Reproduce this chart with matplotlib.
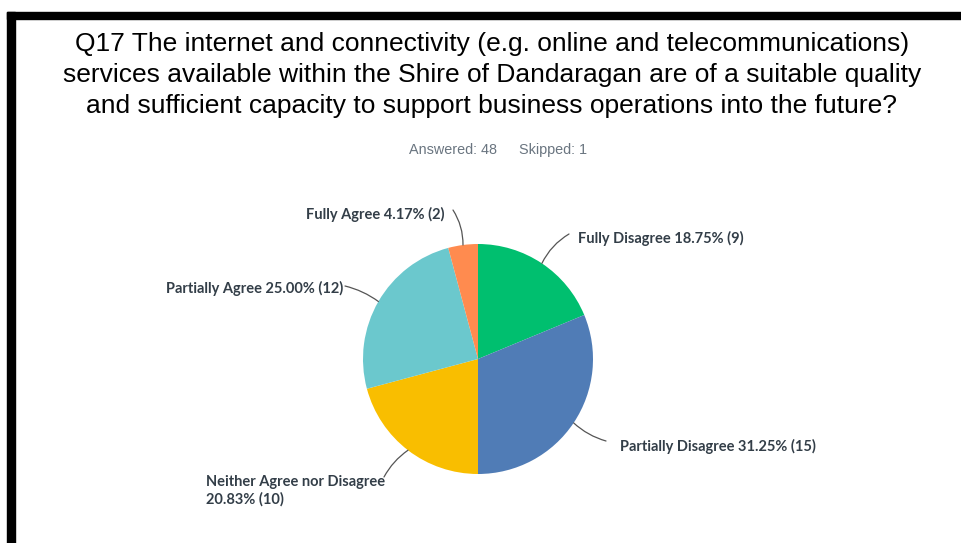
import matplotlib.pyplot as plt
import numpy as np
from matplotlib.patches import Rectangle

W, H = 962, 543

labels = ["Fully Disagree", "Partially Disagree", "Neither Agree nor Disagree",
          "Partially Agree", "Fully Agree"]
counts = [9, 15, 10, 12, 2]
percents = [18.75, 31.25, 20.83, 25.00, 4.17]
colors = ["#00BF6F", "#507CB6", "#F9BE00", "#6BC8CD", "#FF8B4F"]

title = ("Q17 The internet and connectivity (e.g. online and telecommunications)\n"
         "services available within the Shire of Dandaragan are of a suitable quality\n"
         "and sufficient capacity to support business operations into the future?")
answered, skipped = 48, 1

fig = plt.figure(figsize=(W / 100, H / 100), dpi=100)
ax = fig.add_axes([0, 0, 1, 1])

# pie in pixel-like units, y measured from the bottom
cx, cy, r = 478, H - 359, 115
wedges, _ = ax.pie(counts, colors=colors, startangle=90, counterclock=False,
                   center=(cx, cy), radius=r,
                   wedgeprops=dict(linewidth=0))
ax.set_xlim(0, W)
ax.set_ylim(0, H)
ax.set_aspect("equal")
ax.axis("off")

# label anchors (x, y from top), alignment, curve of the leader, leader start
label_pos = [
    ((578, 238), "left", 0.15, (569, 234)),
    ((620, 446), "left", -0.12, (606, 441)),
    ((206, 491), "left", -0.12, (384, 477)),
    ((343, 288), "right", -0.1, (345, 286)),
    ((445, 214), "right", -0.15, (453, 210)),
]

for w, name, pct, n, (tpos, ha, rad, lstart) in zip(
        wedges, labels, percents, counts, label_pos):
    mid = np.deg2rad((w.theta1 + w.theta2) / 2)
    edge = (cx + r * np.cos(mid), cy + r * np.sin(mid))
    if name.startswith("Neither"):
        txt = f"{name}\n{pct:.2f}% ({n})"
    else:
        txt = f"{name} {pct:.2f}% ({n})"
    ax.text(tpos[0], H - tpos[1], txt, ha=ha, va="center", fontsize=10.5,
            fontweight="bold", family="Lato", color="#333e48",
            linespacing=1.3)
    ax.annotate("", xy=edge, xytext=(lstart[0], H - lstart[1]),
                arrowprops=dict(arrowstyle="-", color="#555555", lw=0.9,
                                shrinkA=0, shrinkB=0,
                                connectionstyle=f"arc3,rad={rad}"))

fig.text(492 / W, 1 - 75 / H, title, ha="center", va="center",
         fontsize=19, family="Liberation Sans", color="#000000",
         linespacing=1.36)
fig.text(497 / W, 1 - 150 / H, f"Answered: {answered}",
         ha="right", va="center", fontsize=10.4, family="Liberation Sans",
         color="#6a7580")
fig.text(519 / W, 1 - 150 / H, f"Skipped: {skipped}",
         ha="left", va="center", fontsize=10.4, family="Liberation Sans",
         color="#6a7580")

# black frame along the top and left edges
fig.patches.append(Rectangle((7 / W, 1 - 19 / H), 1, 7 / H,
                             transform=fig.transFigure, color="black"))
fig.patches.append(Rectangle((7 / W, 0), 8 / W, 1 - 12 / H,
                             transform=fig.transFigure, color="black"))

fig.savefig("out.png", dpi=100)
